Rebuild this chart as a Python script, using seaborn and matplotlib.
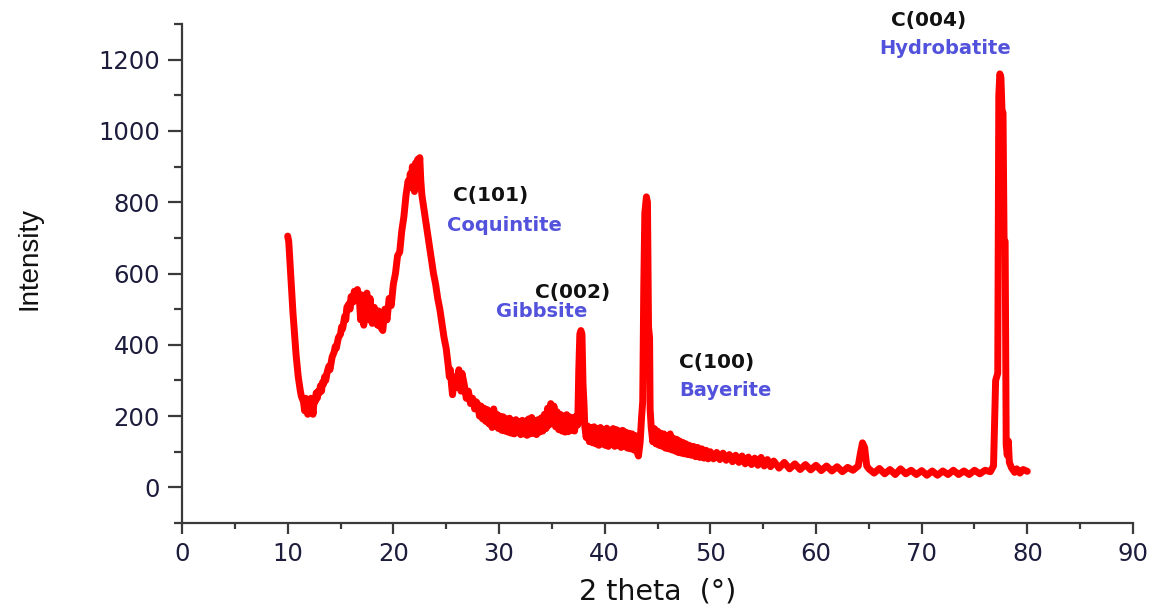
import numpy as np
import pandas as pd
import seaborn as sns
import matplotlib
matplotlib.use("Agg")
import matplotlib.pyplot as plt
from matplotlib.ticker import MultipleLocator

# XRD pattern, (2 theta in degrees, intensity) pairs by region
drop_10_14 = [
    (10.0, 705), (10.1, 690), (10.2, 640), (10.3, 590), (10.4, 540), (10.5, 490), (10.6, 450),
    (10.7, 410), (10.8, 370), (10.9, 340), (11.0, 310), (11.1, 290), (11.2, 270), (11.3, 255),
    (11.5, 240), (11.6, 215), (11.7, 250), (11.8, 225), (11.9, 205), (12.0, 240), (12.1, 215),
    (12.2, 250), (12.3, 230), (12.4, 205), (12.5, 245), (12.6, 240), (12.7, 265), (12.8, 250),
    (12.9, 270), (13.0, 265), (13.1, 285), (13.2, 270), (13.3, 295), (13.4, 290), (13.5, 310),
    (13.6, 300), (13.75, 325), (13.9, 340),
]
hump_14_20 = [
    (14.0, 330), (14.2, 365), (14.4, 380), (14.5, 395), (14.6, 390), (14.8, 420), (15.0, 430),
    (15.1, 450), (15.2, 445), (15.4, 480), (15.5, 470), (15.6, 505), (15.8, 515), (15.9, 500),
    (16.0, 535), (16.2, 520), (16.3, 550), (16.5, 540), (16.6, 555), (16.8, 520), (16.9, 470),
    (17.0, 540), (17.1, 500), (17.2, 455), (17.3, 530), (17.5, 545), (17.6, 500), (17.7, 470),
    (17.8, 530), (17.9, 490), (18.0, 460), (18.2, 505), (18.3, 470), (18.5, 455), (18.6, 495),
    (18.8, 450), (19.0, 440), (19.2, 500), (19.4, 470), (19.6, 530), (19.8, 510),
]
peak_20_28 = [
    (20.0, 570), (20.2, 600), (20.4, 650), (20.6, 660), (20.8, 720), (21.0, 760), (21.2, 820),
    (21.4, 860), (21.5, 840), (21.6, 880), (21.7, 850), (21.8, 900), (21.9, 860), (22.0, 830),
    (22.1, 910), (22.2, 870), (22.3, 920), (22.4, 880), (22.5, 925), (22.6, 860), (22.7, 820),
    (22.8, 800), (23.0, 760), (23.2, 720), (23.4, 680), (23.6, 640), (23.8, 600), (24.0, 570),
    (24.2, 530), (24.4, 500), (24.6, 460), (24.8, 420), (25.0, 390), (25.2, 340), (25.3, 310),
    (25.4, 330), (25.5, 290), (25.6, 260), (25.8, 310), (26.0, 280), (26.2, 330), (26.4, 270),
    (26.5, 320), (26.7, 290), (26.9, 250), (27.1, 270), (27.3, 235), (27.5, 250), (27.7, 220),
    (27.85, 240),
]
band_28_38 = [
    (28.0, 232), (28.15, 200), (28.3, 228), (28.45, 192), (28.6, 222), (28.75, 185), (28.9, 218),
    (29.05, 178), (29.2, 212), (29.35, 168), (29.5, 220), (29.65, 172), (29.8, 205), (29.95, 165),
    (30.1, 200), (30.25, 160), (30.4, 198), (30.55, 158), (30.7, 192), (30.85, 155), (31.0, 194),
    (31.15, 152), (31.3, 186), (31.45, 150), (31.6, 190), (31.75, 155), (31.9, 184), (32.05, 148),
    (32.2, 188), (32.35, 150), (32.5, 186), (32.65, 146), (32.8, 192), (32.95, 150), (33.1, 196),
    (33.25, 152), (33.4, 188), (33.55, 148), (33.7, 190), (33.85, 155), (34.0, 195), (34.15, 158),
    (34.3, 205), (34.45, 165), (34.6, 222), (34.75, 175), (34.9, 235), (35.05, 180), (35.2, 228),
    (35.35, 170), (35.5, 212), (35.65, 162), (35.8, 205), (35.95, 158), (36.1, 200), (36.25, 155),
    (36.4, 204), (36.55, 156), (36.7, 198), (36.85, 160), (37.0, 195), (37.15, 158), (37.3, 200),
    (37.45, 175), (37.55, 330), (37.65, 430), (37.75, 440), (37.85, 430), (37.95, 290), (38.05, 230),
    (38.12, 170),
]
band_38_50 = [
    (38.25, 140), (38.4, 172), (38.55, 128), (38.7, 168), (38.85, 125), (39.0, 170), (39.15, 122),
    (39.3, 165), (39.45, 118), (39.6, 168), (39.75, 122), (39.9, 162), (40.05, 118), (40.2, 166),
    (40.35, 115), (40.5, 160), (40.65, 120), (40.8, 165), (40.95, 115), (41.1, 162), (41.25, 118),
    (41.4, 158), (41.55, 112), (41.7, 160), (41.85, 115), (42.0, 155), (42.15, 110), (42.3, 152),
    (42.45, 108), (42.6, 150), (42.75, 105), (42.9, 145), (43.05, 100), (43.2, 88), (43.35, 125),
    (43.5, 200), (43.6, 240), (43.7, 560), (43.8, 770), (43.95, 815), (44.05, 800), (44.15, 450),
    (44.25, 420), (44.3, 220), (44.4, 170), (44.55, 128), (44.7, 165), (44.85, 122), (45.0, 158),
    (45.15, 118), (45.3, 152), (45.45, 115), (45.6, 150), (45.75, 110), (45.9, 145), (46.05, 108),
    (46.2, 150), (46.35, 105), (46.5, 138), (46.65, 102), (46.8, 135), (46.95, 98), (47.1, 130),
    (47.25, 96), (47.4, 126), (47.55, 94), (47.7, 122), (47.85, 92), (48.0, 118), (48.2, 90),
    (48.4, 115), (48.6, 86), (48.8, 112), (49.0, 84), (49.2, 108), (49.4, 82), (49.6, 104),
    (49.8, 80),
]
tail_50_76 = [
    (50.0, 100), (50.3, 80), (50.6, 98), (50.9, 78), (51.2, 96), (51.5, 76), (51.8, 92),
    (52.1, 72), (52.4, 90), (52.7, 70), (53.0, 88), (53.3, 66), (53.6, 85), (53.9, 64),
    (54.2, 82), (54.5, 62), (54.8, 84), (55.1, 60), (55.4, 78), (55.7, 58), (56.0, 74),
    (56.5, 54), (57.0, 70), (57.5, 52), (58.0, 66), (58.5, 50), (59.0, 64), (59.5, 49),
    (60.0, 62), (60.5, 47), (61.0, 60), (61.5, 46), (62.0, 58), (62.5, 44), (63.0, 56),
    (63.5, 48), (64.0, 60), (64.2, 95), (64.4, 125), (64.6, 112), (64.8, 60), (65.0, 52),
    (65.5, 40), (66.0, 53), (66.5, 38), (67.0, 50), (67.5, 36), (68.0, 52), (68.5, 38),
    (69.0, 48), (69.5, 36), (70.0, 47), (70.5, 34), (71.0, 46), (71.5, 34), (72.0, 46),
    (72.5, 36), (73.0, 48), (73.5, 36), (74.0, 46), (74.5, 36), (75.0, 48), (75.5, 38),
    (76.0, 48), (76.5, 44),
]
peak_77_80 = [
    (76.8, 60), (77.0, 300), (77.2, 320), (77.3, 1100), (77.4, 1160), (77.5, 1150), (77.6, 1060),
    (77.7, 1050), (77.8, 690), (77.9, 690), (78.0, 120), (78.1, 90), (78.2, 130), (78.3, 70),
    (78.5, 55), (78.8, 42), (79.0, 52), (79.3, 40), (79.6, 50), (80.0, 45),
]

# peak labels and mineral names, positioned in data units
peak_tags = ["C(101)", "C(002)", "C(100)", "C(004)"]
tag_xy = [(29.25, 820), (37.0, 547), (50.6, 350), (70.7, 1309)]
mineral_names = ["Coquintite", "Gibbsite", "Bayerite", "Hydrobatite"]
mineral_xy = [(30.5, 734), (34.0, 494), (51.4, 272), (72.2, 1231)]

pattern = drop_10_14 + hump_14_20 + peak_20_28 + band_28_38 + band_38_50 + tail_50_76 + peak_77_80
df = pd.DataFrame(pattern, columns=["two_theta", "intensity"])

sns.set_style("ticks")
plt.rcParams["font.family"] = ["DejaVu Sans"]

fig = plt.figure(figsize=(11.52, 6.09), dpi=100)
ax = fig.add_axes([0.158, 0.1412, 0.8255, 0.8194])

sns.lineplot(data=df, x="two_theta", y="intensity", color="#ff0000",
             linewidth=5, sort=False, estimator=None, ax=ax)

ax.set_xlim(0, 90)
ax.set_ylim(-100, 1300)
ax.xaxis.set_major_locator(MultipleLocator(10))
ax.xaxis.set_minor_locator(MultipleLocator(5))
ax.yaxis.set_minor_locator(MultipleLocator(100))
ax.set_yticks([0, 200, 400, 600, 800, 1000, 1200])

sns.despine(ax=ax)
for side in ["left", "bottom"]:
    ax.spines[side].set_color("#3a3a3a")
    ax.spines[side].set_linewidth(1.6)

tick_col = "#1c1c3c"
ax.tick_params(axis="y", which="major", direction="out", length=10, width=1.6,
               color="#3a3a3a", labelsize=17.5, labelcolor=tick_col, pad=6)
ax.tick_params(axis="y", which="minor", direction="out", length=6, width=1.6, color="#3a3a3a")
ax.tick_params(axis="x", which="major", direction="out", length=8, width=1.6,
               color="#3a3a3a", labelsize=17.5, labelcolor=tick_col, pad=6)
ax.tick_params(axis="x", which="minor", direction="out", length=4, width=1.6, color="#3a3a3a")

ax.set_xlabel("2 theta  (°)", fontsize=20.5, color="#111111", labelpad=8)
ax.set_ylabel("")
fig.text(0.026, 0.575, "Intensity", rotation=90, ha="center", va="center",
         fontsize=20, color="#111111",
         family=["Liberation Sans Narrow", "Liberation Sans", "DejaVu Sans"])

for label, (x, y) in zip(peak_tags, tag_xy):
    ax.text(x, y, label, ha="center", va="center", fontsize=14.5,
            fontweight="bold", color="#111111")
for label, (x, y) in zip(mineral_names, mineral_xy):
    ax.text(x, y, label, ha="center", va="center", fontsize=14,
            fontweight="bold", color="#5252dc")

fig.savefig("out.png", dpi=100)
